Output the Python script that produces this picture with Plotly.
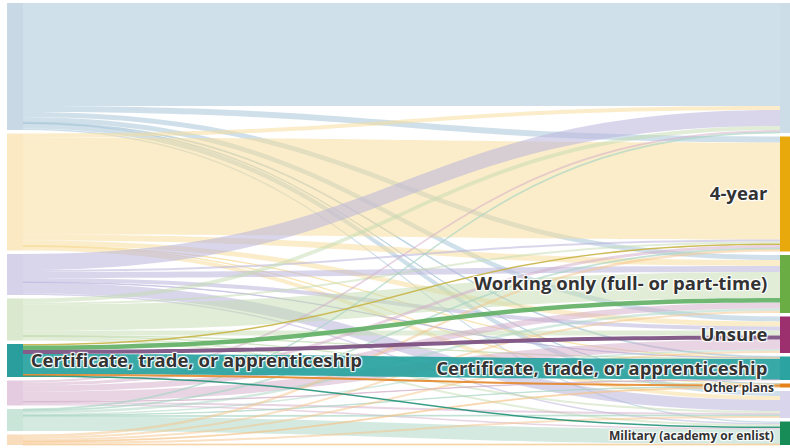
import plotly.graph_objects as go

# Plans (right column order)
target_names = ["2-year", "4-year", "Working only (full- or part-time)", "Unsure",
                "Certificate, trade, or apprenticeship", "Other plans", "Gap year",
                "Military (academy or enlist)"]
target_shown = [False, True, True, True, True, True, False, True]
target_small = [False, False, False, False, False, True, False, True]

# Earlier plans (left column order)
source_names = ["2-year", "4-year", "Gap year", "Working only (full- or part-time)",
                "Certificate, trade, or apprenticeship", "Unsure",
                "Military (academy or enlist)", "Other plans"]
source_shown = [False, False, False, False, True, False, False, False]

# Flows from each earlier plan to the later plans (in target order)
flow_2year    = [103, 6, 5, 5, 1, 0.5, 5, 1.5]
flow_4year    = [4, 97, 6, 5, 0.5, 0.5, 4, 0]
flow_gapyear  = [16, 2, 6, 4, 0.5, 0, 11, 1.5]
flow_working  = [4, 2, 26, 5, 0.5, 0.5, 2, 2]
flow_cert     = [0, 1.5, 4.5, 4, 20.5, 1, 0, 1.5]
flow_unsure   = [2, 3, 6, 10, 0.5, 0, 2, 1.5]
flow_military = [1, 1, 2.5, 1.5, 0, 0.5, 1, 14.5]
flow_other    = [0, 2.5, 2, 2, 0, 1, 2, 1]

flows = [flow_2year, flow_4year, flow_gapyear, flow_working,
         flow_cert, flow_unsure, flow_military, flow_other]
highlight_source = 4

# colours
source_node_colors = ["#c8d9e5", "#fbe9c3", "#d6d2ea", "#dae8cd",
                      "#2a9e9c", "#e5cbe0", "#c9e5d8", "#f8dcbc"]
source_link_colors = ["rgba(170,198,216,0.55)", "rgba(247,220,150,0.5)",
                      "rgba(185,180,220,0.55)", "rgba(195,220,175,0.5)",
                      "rgba(42,160,158,0.5)", "rgba(210,170,200,0.5)",
                      "rgba(170,213,195,0.5)", "rgba(245,195,135,0.5)"]
target_node_colors = ["#cddde8", "#e8a90c", "#6aad45", "#9c2f6d",
                      "#2aa3a1", "#e5821c", "#d9d5ec", "#188c57"]
target_link_colors = ["rgba(150,180,200,0.9)", "rgba(200,180,70,0.9)",
                      "rgba(95,175,100,0.9)", "rgba(120,75,125,0.9)",
                      "rgba(40,162,160,0.92)", "rgba(230,140,50,0.9)",
                      "rgba(180,170,215,0.9)", "rgba(35,145,120,0.9)"]

W, H = 790, 448
margin = dict(l=7, r=0, t=3, b=3)
pw = W - margin["l"] - margin["r"]
ph = H - margin["t"] - margin["b"]
thick = 16
pad = 3.5
right_node_left_edge = 780 - margin["l"]

n = len(source_names)
left_vals = [sum(r) for r in flows]
right_vals = [sum(r[j] for r in flows) for j in range(n)]
ky = min((ph - (n - 1) * pad) / sum(left_vals), (ph - (n - 1) * pad) / sum(right_vals))


def centers(vals):
    ys, acc = [], 0.0
    for v in vals:
        h = v * ky
        ys.append((acc + h / 2) / ph)
        acc += h + pad
    return ys


ys = centers(left_vals) + centers(right_vals)
xs = [(thick / 2) / pw] * n + [(right_node_left_edge + thick / 2) / pw] * n

NB = "\u00a0"


def lab(name, shown, side, small=False):
    if not shown:
        return ""
    if small:
        return "<span style='font-size:12px'>" + name + NB + "</span>"
    if side == "left":
        return NB + name
    return name + NB + NB


labels = [lab(s, sh, "left") for s, sh in zip(source_names, source_shown)] + \
         [lab(t, sh, "right", sm) for t, sh, sm in zip(target_names, target_shown, target_small)]

src, tgt, val, col = [], [], [], []
order = [i for i in range(n) if i != highlight_source] + [highlight_source]
for i in order:
    for j, v in enumerate(flows[i]):
        if v <= 0:
            continue
        src.append(i)
        tgt.append(n + j)
        val.append(v)
        col.append(target_link_colors[j] if i == highlight_source else source_link_colors[i])

fig = go.Figure(go.Sankey(
    arrangement="fixed",
    node=dict(
        label=labels,
        x=xs,
        y=ys,
        pad=pad,
        thickness=thick,
        color=source_node_colors + target_node_colors,
        line=dict(width=0),
        hoverinfo="none",
    ),
    link=dict(source=src, target=tgt, value=val, color=col, hoverinfo="none"),
    textfont=dict(family="Open Sans", size=18.5, color="#333333", weight="bold",
                  shadow="1px 1px 1px #fff, -1px -1px 1px #fff, 1px -1px 1px #fff, -1px 1px 1px #fff"),
))
fig.update_layout(width=W, height=H, margin=margin,
                  paper_bgcolor="white", plot_bgcolor="white")
fig.write_html("out.html", config={"displayModeBar": False},
               post_script="document.body.style.margin='0';")
